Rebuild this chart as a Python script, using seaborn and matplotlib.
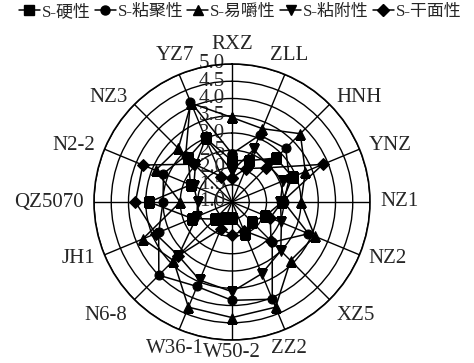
import numpy as np
import pandas as pd
import matplotlib
matplotlib.use("Agg")
import matplotlib.pyplot as plt
import matplotlib.transforms as mtransforms
from matplotlib.lines import Line2D
import seaborn as sns

# Sensory texture scores per variety
categories = ["RXZ", "ZLL", "HNH", "YNZ", "NZ1", "NZ2", "XZ5", "ZZ2",
              "W50-2", "W36-1", "N6-8", "JH1", "QZ5070", "N2-2", "NZ3", "YZ7"]
series_names = ["S-硬性", "S-粘聚性", "S-易嚼性", "S-粘附性", "S-干面性"]

hardness     = [2.2, 2.3, 2.8, 2.9, 2.45, 2.05, 1.8, 2.0, 1.45, 1.5, 1.7, 2.25, 3.4, 2.3, 2.8, 3.0]
cohesiveness = [2.4, 3.1, 3.2, 2.8, 2.5, 3.4, 2.65, 4.05, 3.85, 3.65, 4.0, 3.3, 3.0, 3.15, 2.9, 4.15]
chewiness    = [3.45, 3.3, 3.8, 3.3, 3.0, 3.6, 3.4, 4.3, 4.35, 4.3, 3.4, 3.8, 2.5, 3.4, 3.2, 4.1]
adhesiveness = [1.9, 2.65, 2.5, 2.6, 2.4, 2.55, 3.0, 3.25, 3.6, 3.45, 3.2, 2.1, 2.0, 2.2, 2.5, 3.0]
dryness      = [1.7, 2.05, 2.4, 3.85, 2.45, 2.2, 2.6, 1.9, 1.95, 1.85, 3.2, 3.4, 3.8, 3.8, 2.55, 1.8]

radial_ticks = [1.0, 1.5, 2.0, 2.5, 3.0, 3.5, 4.0, 4.5, 5.0]

series_values = [hardness, cohesiveness, chewiness, adhesiveness, dryness]
marker_shapes = ["s", "o", "^", "v", "D"]

sns.set_theme(style="white")
plt.rcParams["font.family"] = ["Liberation Serif", "Noto Sans CJK SC"]
plt.rcParams["axes.unicode_minus"] = False

n = len(categories)
theta = np.linspace(0, 2 * np.pi, n, endpoint=False)

# long-form table, each polygon closed by repeating its first value
rows = []
for name, vals in zip(series_names, series_values):
    for k in range(n + 1):
        rows.append({"series": name,
                     "theta": theta[k] if k < n else 2 * np.pi,
                     "value": vals[k % n]})
df = pd.DataFrame(rows)

W, H = 474, 363
cx, cy, R = 232, 202, 138
fig = plt.figure(figsize=(W / 100, H / 100), dpi=100)
ax = fig.add_axes([(cx - R) / W, (H - cy - R) / H, 2 * R / W, 2 * R / H],
                  projection="polar")
ax.set_theta_zero_location("N")
ax.set_theta_direction(-1)

sns.lineplot(data=df, x="theta", y="value", hue="series", style="series",
             markers=marker_shapes, dashes=False, palette=["black"] * 5,
             sort=False, estimator=None, markersize=6.5, linewidth=1.1,
             markeredgecolor="black", ax=ax, zorder=4, legend=False)

ax.set_ylim(radial_ticks[0], radial_ticks[-1])
ax.set_yticks(radial_ticks)
ax.set_yticklabels([])
ax.set_xticks(theta)
ax.set_xticklabels([])
ax.set_xlabel("")
ax.set_ylabel("")
ax.grid(True, color="black", linewidth=1.0)
ax.spines["polar"].set_color("black")
ax.spines["polar"].set_linewidth(1.2)
ax.set_facecolor("white")

# radial scale labels along the top spoke
for v in radial_ticks:
    tr = mtransforms.offset_copy(ax.transData, fig=fig, x=-7, y=0, units="dots")
    ax.text(0, v, f"{v:.1f}", transform=tr, ha="right", va="center",
            fontsize=15, zorder=2)

# category labels around the rim
d = 10
for ang, name in zip(theta, categories):
    s, c = np.sin(ang), np.cos(ang)
    ha = "left" if s > 0.5 else ("right" if s < -0.5 else "center")
    if c > 0.8:
        va = "bottom"
    elif c < -0.8:
        va = "top"
    else:
        va = "center"
    extra = -9 if (-0.8 <= c < -0.5) else 0
    dd = d - 7 if c < -0.99 else d
    tr = mtransforms.offset_copy(ax.transData, fig=fig,
                                 x=dd * s, y=dd * c + extra, units="dots")
    ax.text(ang, radial_ticks[-1], name, transform=tr, ha=ha, va=va,
            fontsize=15, clip_on=False)

handles = [Line2D([], [], color="black", marker=m, markersize=6.5, linewidth=1.1)
           for m in marker_shapes]
fig.legend(handles, series_names, loc="center",
           bbox_to_anchor=(240 / W, 1 - 12 / H), ncol=5, frameon=False,
           fontsize=12.2, handlelength=1.25, handletextpad=0.1,
           columnspacing=0.25, borderaxespad=0, borderpad=0)

fig.savefig("out.png", dpi=100, facecolor="white")
